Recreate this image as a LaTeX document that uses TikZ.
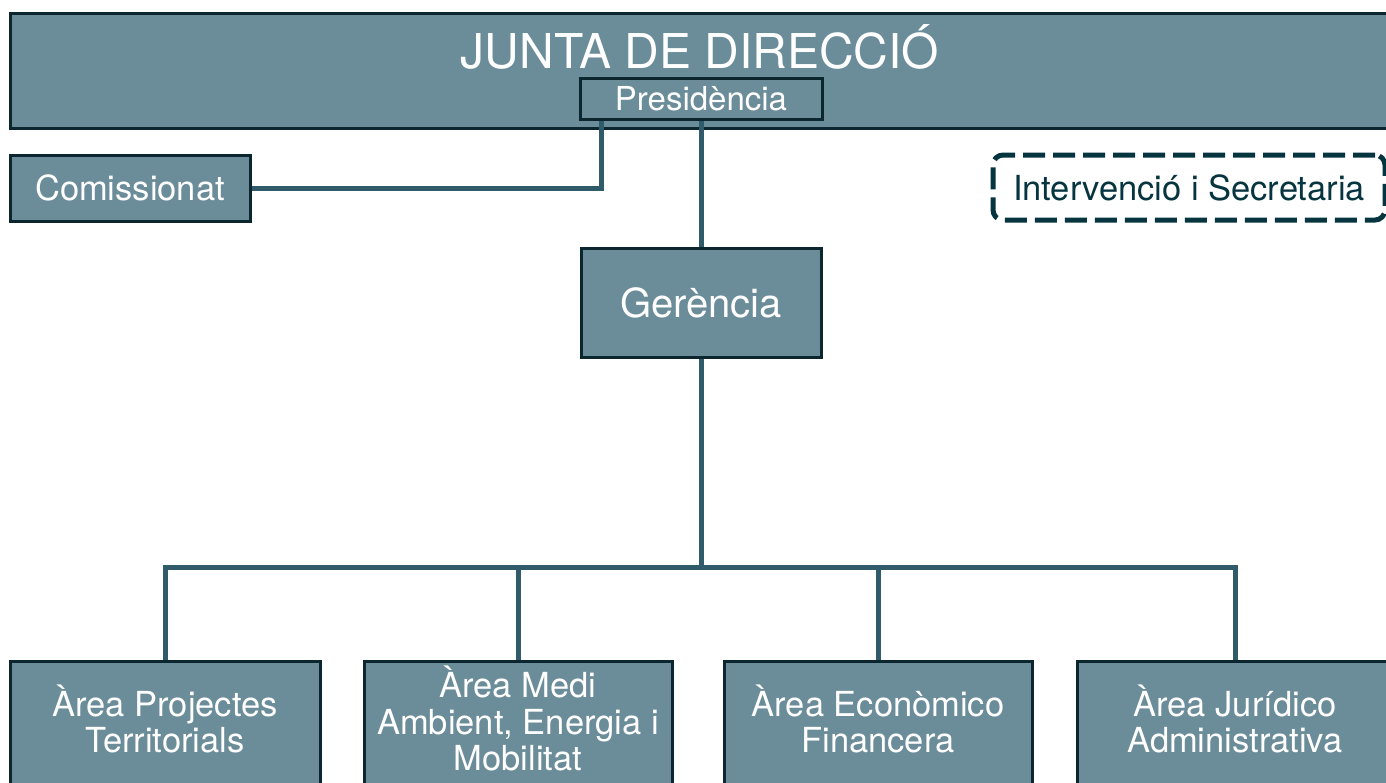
\documentclass[tikz,border=0pt]{standalone}
\usepackage{fontspec}
\setmainfont{TeX Gyre Heros}
\usepackage{tikz}
\usetikzlibrary{positioning}
\usetikzlibrary{calc}
\definecolor{boxfill}{HTML}{6B8C99}
\definecolor{boxline}{HTML}{0C2630}
\definecolor{branchcol}{HTML}{2F5B6B}
\definecolor{darkteal}{HTML}{06343F}
\newcommand{\lowpad}{\rule[-12pt]{0pt}{12pt}}
\tikzset{
    orgbox/.style={draw=boxline, fill=boxfill, line width=3pt, text=white, inner sep=0pt, align=center},
    juntabox/.style={orgbox, minimum width=1380pt, minimum height=115pt, font=\fontsize{48}{52}\selectfont},
    presbox/.style={orgbox, minimum width=242pt, minimum height=41pt, font=\fontsize{33}{36}\selectfont},
    sidebox/.style={orgbox, minimum width=240pt, minimum height=66pt, font=\fontsize{34.5}{37}\selectfont},
    gerbox/.style={orgbox, minimum width=240pt, minimum height=109pt, font=\fontsize{40}{44}\selectfont},
    areabox/.style={orgbox, anchor=north, minimum width=308pt, minimum height=126pt, font=\fontsize{34.5}{36.5}\selectfont},
    dashbox/.style={draw=darkteal, line width=5pt, dash pattern=on 22pt off 8pt, rounded corners=10pt,
        text=darkteal, minimum width=392pt, minimum height=65pt, inner sep=0pt, font=\fontsize{34.5}{37}\selectfont},
    branch/.style={draw=branchcol, line width=5pt},
}
\begin{document}
\begin{tikzpicture}[x=1pt, y=-1pt]
	\useasboundingbox (0,0) rectangle (1386,782);
	\clip (0,0) rectangle (1386,782);
	\node (junta) [juntabox, text height=35pt, text depth=40pt] at (700,70.5) {JUNTA DE DIRECCIÓ};
	\node (pres) [presbox] at (701,98.5) {Presidència};
	\node (comis) [sidebox] at (130,188) {Comissionat};
	\node (interv) [dashbox] at (1189,187.5) {Intervenció i Secretaria};
	\node (ger) [gerbox] at (701,302.5) {Gerència};
	\node (a1) [areabox, minimum width=310pt] at (165,660) {Àrea Projectes\\Territorials\lowpad};
	\node (a2) [areabox] at (518,660) {Àrea Medi\\Ambient, Energia i\\Mobilitat\lowpad};
	\node (a3) [areabox] at (878,660) {Àrea Econòmico\\Financera\lowpad};
	\node (a4) [areabox, minimum width=316pt] at (1235,660) {Àrea Jurídico\\Administrativa\lowpad};
	\coordinate (bus) at (701,567);
	\draw[branch] ([xshift=23pt]pres.south west) |- (comis.east);
	\draw[branch] (pres.south) -- (ger.north);
	\draw[branch] (ger.south) -- (bus);
	\foreach \a in {a1,a2,a3,a4}
		\draw[branch] (bus) -| (\a.north);
\end{tikzpicture}
\end{document}
